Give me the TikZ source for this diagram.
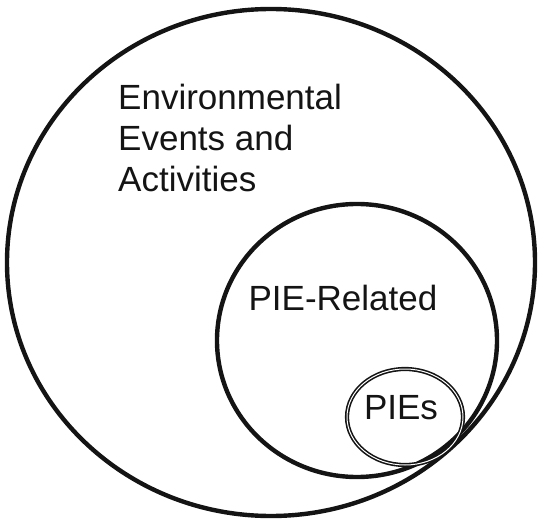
\documentclass[tikz,border=0pt]{standalone}
\usepackage{fontspec}
\setmainfont{Liberation Sans}
\begin{document}
\begin{tikzpicture}[x=1pt,y=-1pt,
  setline/.style={line width=4.4pt,draw=black!92},
  innerset/.style={draw=black!92,line width=1.6pt,double=white,double distance=1pt},
  label/.style={inner sep=0pt,font=\fontsize{35}{41}\selectfont,text=black!92}]
  \useasboundingbox (0,0) rectangle (538,521);
  % Environmental events and activities
  \draw[setline] (271,262.5) ellipse [x radius=264, y radius=253.5];
  % PIE-related events
  \draw[setline] (357,340.5) ellipse [x radius=140, y radius=136.5];
  % PIEs
  \draw[innerset] (405,417) ellipse [x radius=58, y radius=48];
  % multi-line label: the base anchor sits on the last line
  \node[label,anchor=base west,align=left] (env) at (118,192)
    {Environmental\\Events and\\Activities};
  \node[label,anchor=base] (rel) at (343,310) {PIE-Related};
  \node[label,anchor=base] (pies) at (401,419) {PIEs};
\end{tikzpicture}
\end{document}
